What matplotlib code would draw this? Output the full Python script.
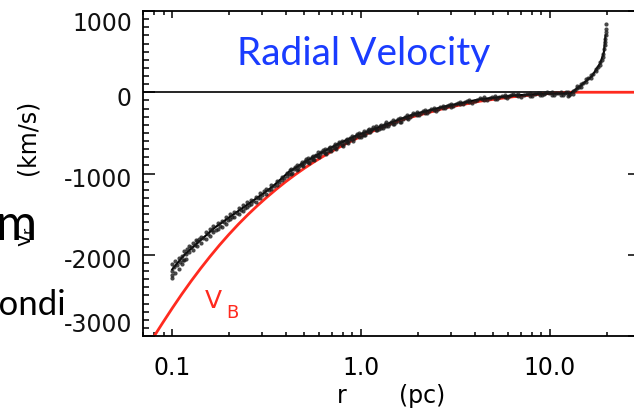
import matplotlib
matplotlib.use("Agg")
import matplotlib.pyplot as plt
import matplotlib.transforms as mtransforms
from matplotlib.ticker import FixedLocator, LogLocator, MultipleLocator, NullFormatter

# Measured radial velocities (r in pc, v in km/s)
r_obs = [
    0.100, 0.100, 0.100, 0.100, 0.102, 0.104, 0.104, 0.106, 0.108, 0.108, 0.110, 0.112, 0.112, 0.114, 0.116, 0.116,
    0.118, 0.118, 0.120, 0.123, 0.123, 0.126, 0.129, 0.129, 0.132, 0.134, 0.136, 0.136,
    0.139, 0.142, 0.142, 0.146, 0.150, 0.150, 0.154, 0.158, 0.158, 0.162, 0.165, 0.165,
    0.170, 0.174, 0.174, 0.178, 0.183, 0.183, 0.188, 0.193, 0.193, 0.198, 0.202, 0.202,
    0.208, 0.213, 0.213, 0.219, 0.225, 0.225, 0.231, 0.237, 0.237, 0.243, 0.248, 0.248,
    0.255, 0.262, 0.262, 0.269, 0.276, 0.276, 0.284, 0.292, 0.292, 0.300, 0.306,
    0.315, 0.315, 0.325, 0.335, 0.335, 0.346, 0.357, 0.357, 0.368, 0.380, 0.380, 0.392, 0.404, 0.404, 0.413,
    0.425, 0.425, 0.440, 0.455, 0.455, 0.470, 0.485, 0.485, 0.500, 0.510,
    0.418, 0.432, 0.448, 0.462, 0.478, 0.492, 0.505,
    0.525, 0.525, 0.540, 0.555, 0.555, 0.570, 0.590, 0.590, 0.608, 0.625,
    0.518, 0.532, 0.548, 0.562, 0.580, 0.598, 0.616,
    0.645, 0.645, 0.665, 0.685, 0.685, 0.705, 0.725, 0.725, 0.745, 0.766,
    0.635, 0.655, 0.675, 0.695, 0.715, 0.735, 0.755,
    0.790, 0.790, 0.815, 0.840, 0.840, 0.865, 0.890, 0.890, 0.920, 0.950,
    0.778, 0.802, 0.828, 0.852, 0.878, 0.905, 0.935,
    0.98, 0.98, 1.01, 1.04, 1.04, 1.07, 1.10, 1.10, 1.13, 1.16,
    0.965, 0.995, 1.025, 1.055, 1.085, 1.115, 1.145,
    1.20, 1.20, 1.24, 1.28, 1.28, 1.32, 1.36, 1.36, 1.41,
    1.18, 1.22, 1.26, 1.30, 1.34, 1.385,
    1.47, 1.47, 1.53, 1.60, 1.60, 1.67, 1.74, 1.74, 1.81, 1.89,
    1.44, 1.50, 1.565, 1.635, 1.705, 1.775, 1.85,
    1.98, 1.98, 2.08, 2.19, 2.19, 2.30, 2.42, 2.42, 2.55, 2.70, 2.70, 2.84,
    1.93, 2.03, 2.13, 2.245, 2.36, 2.485, 2.62, 2.77,
    3.00, 3.00, 3.17, 3.35, 3.35, 3.55, 3.75, 3.75, 4.00, 4.26,
    2.92, 3.08, 3.26, 3.45, 3.65, 3.87, 4.13,
    4.5, 4.5, 4.8, 5.1, 5.1, 5.4, 5.8, 5.8, 6.1, 6.4,
    4.38, 4.65, 4.95, 5.25, 5.6, 5.95, 6.25,
    6.8, 6.8, 7.3, 7.8, 7.8, 8.3, 8.9, 8.9, 9.3, 9.6,
    6.6, 7.05, 7.55, 8.05, 8.6, 9.1, 9.45,
    10.2, 10.2, 10.8, 11.4, 11.4, 12.0, 12.5, 12.5, 12.8,
    9.9, 10.5, 11.1, 11.7, 12.2, 12.65,
    13.2, 13.2, 13.6, 14.0, 14.0, 14.2, 14.6, 14.6, 15.0, 15.5, 15.5, 16.0, 16.5, 16.5, 17.0,
    17.5, 17.5, 18.0, 18.5, 18.5, 18.9, 19.2, 19.2, 19.4, 19.5, 19.5, 19.6, 19.7, 19.7, 19.75, 19.8,
]
v_obs = [
    -2290, -2110, -2200, -2250, -2150, -2230, -2080, -2120, -2040, -2170, -2090, -2010, -2110, -2060, -1950, -2060,
    -1990, -2050, -1930, -1960, -1890, -1900, -1850, -1940, -1880, -1820, -1890, -1830,
    -1800, -1860, -1780, -1790, -1720, -1800, -1740, -1680, -1770, -1700, -1640, -1720,
    -1690, -1610, -1680, -1640, -1580, -1660, -1600, -1540, -1620, -1570, -1500, -1560,
    -1530, -1470, -1540, -1490, -1430, -1500, -1450, -1390, -1460, -1420, -1350, -1410,
    -1390, -1330, -1380, -1340, -1290, -1350, -1300, -1240, -1300, -1270, -1210,
    -1250, -1190, -1200, -1140, -1190, -1150, -1090, -1140, -1100, -1040, -1080, -1050, -990, -1030, -1000,
    -1000, -940, -950, -900, -960, -910, -860, -900, -870, -820,
    -960, -990, -915, -940, -880, -910, -850,
    -860, -810, -830, -780, -820, -790, -740, -790, -760, -710,
    -840, -870, -800, -835, -770, -800, -735,
    -750, -700, -720, -670, -710, -690, -640, -680, -660, -610,
    -730, -760, -690, -725, -660, -695, -635,
    -650, -600, -620, -570, -610, -590, -540, -580, -560, -510,
    -630, -660, -590, -625, -565, -595, -535,
    -550, -500, -520, -480, -520, -490, -450, -490, -470, -430,
    -525, -545, -500, -525, -465, -495, -450,
    -470, -420, -450, -400, -440, -410, -370, -410, -390,
    -445, -470, -420, -445, -390, -420,
    -390, -345, -360, -320, -360, -330, -285, -320, -300, -260,
    -370, -385, -335, -360, -310, -330, -280,
    -280, -240, -255, -215, -250, -225, -190, -220, -200, -165, -195, -175,
    -265, -285, -235, -250, -205, -225, -180, -195,
    -180, -140, -150, -115, -150, -125, -95, -125, -105, -70,
    -160, -175, -130, -150, -110, -130, -90,
    -95, -60, -75, -50, -80, -60, -35, -60, -45, -25,
    -80, -95, -60, -80, -45, -65, -35,
    -50, -20, -35, -10, -40, -25, -5, -30, -20, 0,
    -35, -55, -20, -40, -15, -35, -10,
    -30, 0, -15, 5, -35, -15, -40, 0, -20,
    -15, -35, -5, -30, 0, -35,
    10, -20, 30, 50, 80, 60, 100, 70, 110, 130, 160, 170, 210, 180, 230,
    260, 290, 310, 370, 340, 400, 470, 440, 530, 580, 620, 660, 700, 740, 780, 840,
]

# Averaged profile through the measurements
r_mean = [0.100, 0.116, 0.136, 0.167, 0.204, 0.250, 0.307, 0.340, 0.415, 0.510, 0.625, 0.766, 0.950,
          1.16, 1.41, 1.89, 2.84, 4.26, 6.4, 9.6, 12.8, 14.2, 16.7, 18.5, 19.3, 19.7]
v_mean = [-2180, -2000, -1856, -1670, -1527, -1383, -1238, -1160, -980, -850, -735, -630, -530,
          -457, -380, -272, -169, -86, -40, -15, -15, 60, 200, 360, 490, 700]

# Bondi inflow velocity V_B
r_bondi = [0.0803, 0.0891, 0.100, 0.1122, 0.1259, 0.1413, 0.1585, 0.1778, 0.1995, 0.2239, 0.2512,
           0.2818, 0.3162, 0.3548, 0.398, 0.4467, 0.5012, 0.5623, 0.631, 0.708, 0.794, 0.891,
           1.0, 1.122, 1.259, 1.413, 1.585, 1.778, 1.89, 2.84, 4.26, 6.4, 9.6, 13.0, 30.0]
v_bondi = [-3000, -2836, -2658, -2487, -2324, -2169, -2022, -1882, -1750, -1625, -1508,
           -1398, -1294, -1196, -1103, -1016, -935, -859, -788, -721, -658, -599,
           -543, -491, -442, -396, -354, -315, -300, -190, -110, -55, -18, 0, 0]

x_ticks = [0.1, 1.0, 10.0]
x_tick_labels = ["0.1", "1.0", "10.0"]
y_ticks = [1000, 0, -1000, -2000, -3000]
y_tick_labels = ["1000", "0", "-1000", "-2000", "-3000"]

W, H = 634, 414
fig = plt.figure(figsize=(W / 100, H / 100), dpi=100)
ax = fig.add_axes([143 / W, (H - 337) / H, (640 - 143) / W, (337 - 12) / H])
ax.set_xscale("log")
ax.set_xlim(0.07, 30)
ax.set_ylim(-3000, 1000)

for s in ax.spines.values():
    s.set_linewidth(1.3)

ax.axhline(0, color="black", lw=1.2, zorder=1)
ax.plot(r_bondi, v_bondi, color="#ff2a1f", lw=2.0, zorder=2)
ax.plot(r_mean, v_mean, color="black", lw=1.5, zorder=3)
ax.plot(r_obs, v_obs, "o", ms=3.0, mfc="#1a1a1a", mec="none", alpha=0.8, zorder=4)

# axes ticks
ax.xaxis.set_major_locator(FixedLocator(x_ticks))
ax.set_xticklabels(x_tick_labels, fontsize=17, family="DejaVu Sans")
ax.xaxis.set_minor_locator(LogLocator(base=10, subs=[2, 3, 4, 5, 6, 7, 8, 9], numticks=30))
ax.xaxis.set_minor_formatter(NullFormatter())
ax.yaxis.set_major_locator(FixedLocator(y_ticks))
ax.yaxis.set_minor_locator(MultipleLocator(100))
ax.set_yticklabels([])
ax.tick_params(which="both", direction="in", top=True, right=True, width=1.1)
ax.tick_params(axis="x", which="major", length=5.2, pad=14)
ax.tick_params(axis="x", which="minor", length=3)
ax.tick_params(axis="y", which="major", length=8.5)
ax.tick_params(axis="y", which="minor", length=4)

ytrans = mtransforms.blended_transform_factory(ax.transAxes, ax.transData)
for val, lab in zip(y_ticks, y_tick_labels):
    if val == max(y_ticks):
        va, dy = "top", 0
    elif val == min(y_ticks):
        va, dy = "bottom", 0
    else:
        va, dy = "center_baseline", -3
    off = mtransforms.ScaledTranslation(-11 / 100, dy / 100, fig.dpi_scale_trans)
    ax.text(0, val, lab, transform=ytrans + off, ha="right", va=va,
            fontsize=17, family="DejaVu Sans", color="#111111")

# axis titles
fig.text(342 / W, 1 - 396 / H, "r", ha="center", va="center", fontsize=17, family="DejaVu Sans")
fig.text(422 / W, 1 - 396 / H, "(pc)", ha="center", va="center", fontsize=17, family="DejaVu Sans")
fig.text(28 / W, 1 - 137 / H, "(km/s)", rotation=90, ha="center", va="center", fontsize=17,
         family="DejaVu Sans")
fig.text(27 / W, 1 - 237 / H, r"$\mathrm{v_r}$", rotation=90, ha="center", va="center", fontsize=15)

# curve label
fig.text(205 / W, 1 - 308 / H, "V", ha="left", va="baseline", fontsize=18, color="#ff2a1f",
         family="DejaVu Sans")
fig.text(226 / W, 1 - 318 / H, "B", ha="left", va="baseline", fontsize=13, color="#ff2a1f",
         family="DejaVu Sans")

# panel title and surrounding slide text
fig.text(237 / W, 1 - 65 / H, "Radial Velocity", ha="left", va="baseline", fontsize=28,
         family="Lato", color="#1a3cff")
fig.text(37 / W, 1 - 240 / H, "m", ha="right", va="baseline", fontsize=36, family="Lato")
fig.text(66 / W, 1 - 315 / H, "Bondi", ha="right", va="baseline", fontsize=25, family="Lato")

fig.savefig("out.png", dpi=100)
